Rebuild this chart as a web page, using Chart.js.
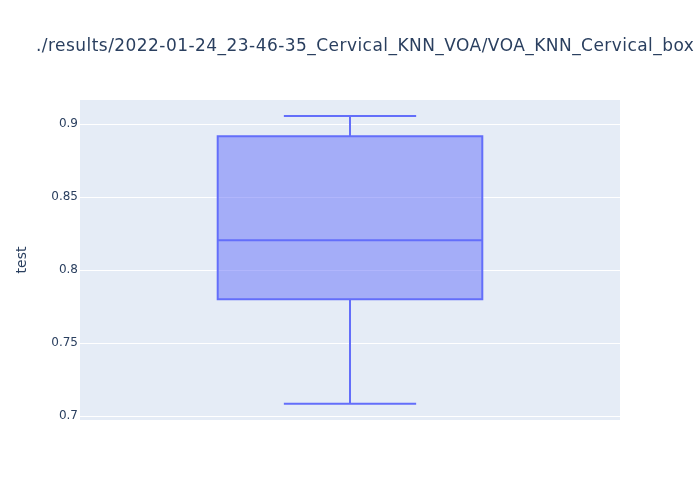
<!DOCTYPE html>
<html>
<head>
<meta charset="utf-8">
<script src="https://cdn.jsdelivr.net/npm/chart.js@4.4.0/dist/chart.umd.min.js"></script>
<style>
  html, body { margin: 0; padding: 0; background: #ffffff; }
  #wrap { width: 700px; height: 500px; }
</style>
</head>
<body>
<div id="wrap"><canvas id="c" width="700" height="500"></canvas></div>
<script>
// ---- data ----
const titleText = './results/2022-01-24_23-46-35_Cervical_KNN_VOA/VOA_KNN_Cervical_box';
const categories = ['test'];
const lowerFence = [0.7084];
const q1Values = [0.7800];
const medianValues = [0.8205];
const q3Values = [0.8918];
const upperFence = [0.9057];
const yTickValues = [0.7, 0.75, 0.8, 0.85, 0.9];
const yTickLabels = ['0.7', '0.75', '0.8', '0.85', '0.9'];
const yRange = [0.6973, 0.9166];
const yAxisTitle = 'test';

const lineColor = '#636efa';
const fillColor = 'rgba(99,110,250,0.5)';
const textColor = '#2a3f5f';
const fontFamily = '"DejaVu Sans", verdana, arial, sans-serif';

const bgPlugin = {
  id: 'plotBg',
  beforeDraw(chart) {
    const { ctx, chartArea: a } = chart;
    ctx.save();
    ctx.fillStyle = '#E5ECF6';
    ctx.fillRect(a.left, a.top, a.right - a.left, a.bottom - a.top);
    ctx.restore();
  }
};

const boxPlugin = {
  id: 'boxWhiskers',
  afterDatasetsDraw(chart) {
    const { ctx } = chart;
    const y = chart.scales.y;
    const meta = chart.getDatasetMeta(0);
    ctx.save();
    ctx.strokeStyle = lineColor;
    ctx.lineWidth = 2;
    meta.data.forEach((bar, i) => {
      const cx = bar.x;
      const w = bar.width;
      const yMin = y.getPixelForValue(lowerFence[i]);
      const yQ1 = y.getPixelForValue(q1Values[i]);
      const yMed = y.getPixelForValue(medianValues[i]);
      const yQ3 = y.getPixelForValue(q3Values[i]);
      const yMax = y.getPixelForValue(upperFence[i]);
      ctx.beginPath();
      ctx.rect(cx - w / 2, yQ3, w, yQ1 - yQ3);
      ctx.moveTo(cx - w / 2, yMed); ctx.lineTo(cx + w / 2, yMed);
      ctx.moveTo(cx, yQ1); ctx.lineTo(cx, yMin);
      ctx.moveTo(cx, yQ3); ctx.lineTo(cx, yMax);
      ctx.moveTo(cx - w / 4, yMin); ctx.lineTo(cx + w / 4, yMin);
      ctx.moveTo(cx - w / 4, yMax); ctx.lineTo(cx + w / 4, yMax);
      ctx.stroke();
    });
    ctx.restore();
  }
};

const titlePlugin = {
  id: 'plotTitle',
  afterDraw(chart) {
    const { ctx } = chart;
    ctx.save();
    ctx.font = '17px ' + fontFamily;
    ctx.fillStyle = textColor;
    ctx.textAlign = 'left';
    ctx.textBaseline = 'alphabetic';
    try { ctx.letterSpacing = '0.45px'; } catch (e) {}
    ctx.fillText(titleText, 36, 51);
    ctx.restore();
  }
};

new Chart(document.getElementById('c'), {
  type: 'bar',
  data: {
    labels: categories,
    datasets: [{
      data: categories.map((c, i) => [q1Values[i], q3Values[i]]),
      backgroundColor: fillColor,
      borderWidth: 0,
      borderSkipped: false,
      categoryPercentage: 1,
      barPercentage: 0.49
    }]
  },
  options: {
    responsive: false,
    animation: false,
    layout: { padding: { top: 100, bottom: 80, right: 80, left: 0 } },
    plugins: { legend: { display: false }, tooltip: { enabled: false }, title: { display: false } },
    scales: {
      x: { display: false },
      y: {
        min: yRange[0],
        max: yRange[1],
        afterFit(scale) { scale.width = 80; },
        afterBuildTicks(scale) { scale.ticks = yTickValues.map(v => ({ value: v })); },
        border: { display: false },
        grid: { color: '#ffffff', lineWidth: 1, drawTicks: false },
        ticks: {
          padding: 2,
          color: textColor,
          font: { family: fontFamily, size: 12 },
          callback: (v) => { const i = yTickValues.indexOf(v); return i >= 0 ? yTickLabels[i] : ''; }
        },
        title: {
          display: true,
          text: yAxisTitle,
          color: textColor,
          font: { family: fontFamily, size: 14 },
          padding: { top: 14, bottom: 0 }
        }
      }
    }
  },
  plugins: [bgPlugin, boxPlugin, titlePlugin]
});
</script>
</body>
</html>
